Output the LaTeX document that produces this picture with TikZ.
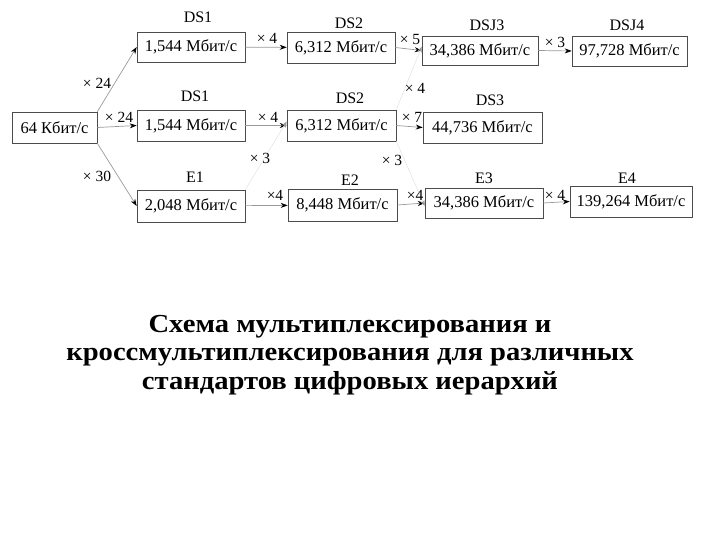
\documentclass[tikz,border=0pt]{standalone}
\usepackage{fontspec}
\setmainfont{Liberation Serif}
\newfontfamily\titlefont[FakeStretch=1.1]{Liberation Serif}
\usetikzlibrary{arrows.meta}
\begin{document}
\begin{tikzpicture}[x=1pt,y=-1pt,
  box/.style={draw=black!70,line width=0.6pt,inner sep=0pt,font=\fontsize{16.5}{18}\selectfont},
  lab/.style={font=\fontsize{16}{18}\selectfont,inner sep=0pt},
  mul/.style={font=\fontsize{15.5}{17}\selectfont,inner sep=0pt},
  conn/.style={draw=black!40,line width=0.7pt,-{Stealth[length=7pt,width=5pt,color=black]}},
  faint/.style={draw=black!10,line width=0.6pt,-{Stealth[length=6pt,width=4.5pt,color=black!40]}}]
\useasboundingbox (0,0) rectangle (720,540);
% boxes
\node[box,minimum width=85pt,minimum height=31pt] (src) at (54.5,127.5) {64 Кбит/с};
\node[box,minimum width=108pt,minimum height=30pt] (a1) at (191,47) {1,544 Мбит/с};
\node[box,minimum width=108pt,minimum height=31pt] (a2) at (341,47.5) {6,312 Мбит/с};
\node[box,minimum width=116pt,minimum height=29pt] (a3) at (480,50.5) {34,386 Мбит/с};
\node[box,minimum width=115pt,minimum height=30pt] (a4) at (629.5,51) {97,728 Мбит/с};
\node[box,minimum width=108pt,minimum height=31pt] (b1) at (191,125.5) {1,544 Мбит/с};
\node[box,minimum width=109pt,minimum height=31pt] (b2) at (341.5,125.5) {6,312 Мбит/с};
\node[box,minimum width=119pt,minimum height=31pt] (b3) at (482.5,127.5) {44,736 Мбит/с};
\node[box,minimum width=108pt,minimum height=32pt] (c1) at (191,206) {2,048 Мбит/с};
\node[box,minimum width=109pt,minimum height=32pt] (c2) at (342.5,205) {8,448 Мбит/с};
\node[box,minimum width=118pt,minimum height=30pt] (c3) at (484,203) {34,386 Мбит/с};
\node[box,minimum width=122pt,minimum height=31pt] (c4) at (631,201.5) {139,264 Мбит/с};
% level labels
\node[lab] (la1) at (198,17) {DS1};
\node[lab] (la2) at (349,23) {DS2};
\node[lab] (la3) at (487,25) {DSJ3};
\node[lab] (la4) at (627,25) {DSJ4};
\node[lab] (lb1) at (195,96) {DS1};
\node[lab] (lb2) at (350,98) {DS2};
\node[lab] (lb3) at (490,100) {DS3};
\node[lab] (lc1) at (195,177) {E1};
\node[lab] (lc2) at (350,180) {E2};
\node[lab] (lc3) at (484,178) {E3};
\node[lab] (lc4) at (627,178) {E4};
% connectors
\draw[conn] (src.north east) -- (a1.west);
\draw[conn] (src.east) -- (b1.west);
\draw[conn] (src.south east) -- (c1.west);
\draw[conn] (a1) -- (a2);
\draw[conn] (a2.east) -- (a3.west);
\draw[conn] (a3.east) -- (a4.west);
\draw[conn] (b1) -- (b2);
\draw[conn] (b2.east) -- (b3.west);
\draw[conn] (c1) -- (c2);
\draw[conn] (c2.east) -- (c3.west);
\draw[conn] (c3.east) -- (c4.west);
\draw[faint] (c1.north east) -- ([yshift=4pt]b2.west);
\draw[faint] (b2.south east) -- ([yshift=-3pt]c3.west);
\draw[faint] (b2.north east) -- ([yshift=4pt]a3.west);
% multipliers
\node[mul] (m1) at (267,38) {× 4};
\node[mul] (m2) at (410,40) {× 5};
\node[mul] (m3) at (555,42) {× 3};
\node[mul] (m4) at (97,83) {× 24};
\node[mul] (m5) at (119,117) {× 24};
\node[mul] (m6) at (268,117) {× 4};
\node[mul] (m7) at (415,88) {× 4};
\node[mul] (m8) at (412,117) {× 7};
\node[mul] (m9) at (260,158) {× 3};
\node[mul] (m10) at (392,160) {× 3};
\node[mul] (m11) at (97,176) {× 30};
\node[mul] (m12) at (275,195) {×4};
\node[mul] (m13) at (415,195) {×4};
\node[mul] (m14) at (555,195) {× 4};
% title
\node[align=center,inner sep=0pt,font=\titlefont\bfseries\fontsize{26}{28.5}\selectfont] (title) at (350,355)
 {Схема мультиплексирования и\\кроссмультиплексирования для различных\\стандартов цифровых иерархий};
\end{tikzpicture}
\end{document}
